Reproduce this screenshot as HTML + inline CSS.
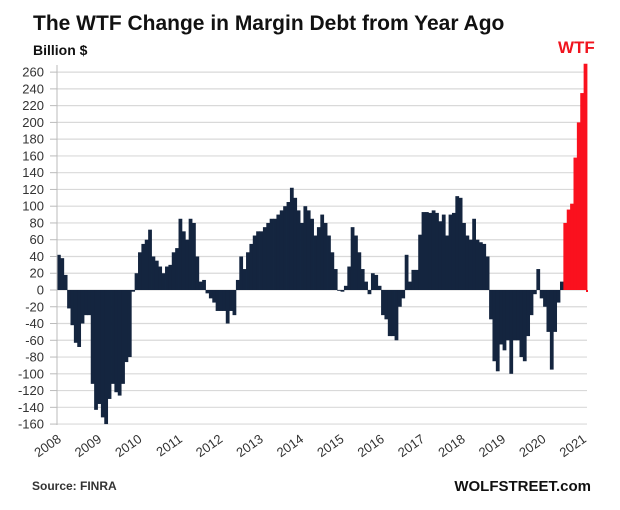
<!DOCTYPE html>
<html><head><meta charset="utf-8"><style>
body{margin:0;background:#fff;}
svg{display:block;font-family:"Liberation Sans",sans-serif;}
</style></head><body>
<svg width="620" height="510" xmlns="http://www.w3.org/2000/svg" id="s">
<text x="33" y="30" font-size="21" font-weight="bold" fill="#111">The WTF Change in Margin Debt from Year Ago</text>
<text x="33" y="55" font-size="14" font-weight="bold" fill="#111">Billion $</text>
<text x="558" y="53" font-size="17" font-weight="bold" fill="#f0141e">WTF</text>
<g id="grid"></g>
<g id="bars"></g>
<line x1="57" y1="65" x2="57" y2="425" stroke="#bbb" stroke-width="1"/>
<g id="xl" font-size="13" fill="#333"></g>
<text x="32" y="490" font-size="12" font-weight="bold" fill="#333">Source: FINRA</text>
<text x="591" y="491" font-size="15" font-weight="bold" fill="#111" text-anchor="end">WOLFSTREET.com</text>
</svg>
<script>
const NS="http://www.w3.org/2000/svg";
function el(t,a,p){const e=document.createElementNS(NS,t);for(const k in a)e.setAttribute(k,a[k]);p.appendChild(e);return e;}
const g=document.getElementById('grid');
const y0=290,sc=0.838;
for(let v=260;v>=-160;v-=20){const y=y0-v*sc;
el('line',{x1:57,x2:587,y1:y,y2:y,stroke:'#d9d9d9','stroke-width':1.2},g);
el('line',{x1:50,x2:57,y1:y,y2:y,stroke:'#bbb','stroke-width':1},g);
const t=el('text',{x:44,y:y+4.5,'font-size':13,fill:'#333','text-anchor':'end'},g);t.textContent=v;}
const d=[42,38,18,-22,-42,-63,-68,-40,-30,-30,-112,-143,
-136,-152,-160,-130,-112,-122,-126,-112,-86,-80,-2,20,
45,55,60,72,40,35,28,20,28,30,45,50,
85,70,60,85,80,40,10,12,-4,-10,-15,-25,
-25,-25,-40,-25,-30,12,40,25,45,55,65,70,
70,75,80,85,85,90,95,100,105,122,110,95,
80,100,95,85,65,75,90,80,65,45,25,0,
-2,5,28,75,65,45,25,10,-5,20,18,5,
-30,-35,-55,-55,-60,-20,-10,42,10,24,24,66,
93,93,92,95,92,82,90,65,90,92,112,110,
80,65,60,85,60,57,55,40,-35,-85,-97,-65,
-72,-60,-100,-60,-60,-80,-85,-55,-30,-5,25,-10,
-20,-50,-95,-50,-15,10,80,96,103,158,200,235,
270];
const b=document.getElementById('bars');const w=(587-57)/d.length;
d.forEach((v,i)=>{const x=57+i*w;const y=y0-Math.max(v,0)*sc;const h=Math.abs(v)*sc;
el('rect',{x:x,y:y,width:w+0.4,height:Math.max(h,0.8),fill:i>=150?'#fa111e':'#14253f'},b);});
el('rect',{x:586,y:290,width:2,height:2,fill:'#fa111e'},b);
const xl=document.getElementById('xl');
for(let k=0;k<=13;k++){const x=62+40.4*k;const t=el('text',{x:x,y:441,'text-anchor':'end',transform:`rotate(-35 ${x} 441)`},xl);t.textContent=2008+k;}
</script>
</body></html>
